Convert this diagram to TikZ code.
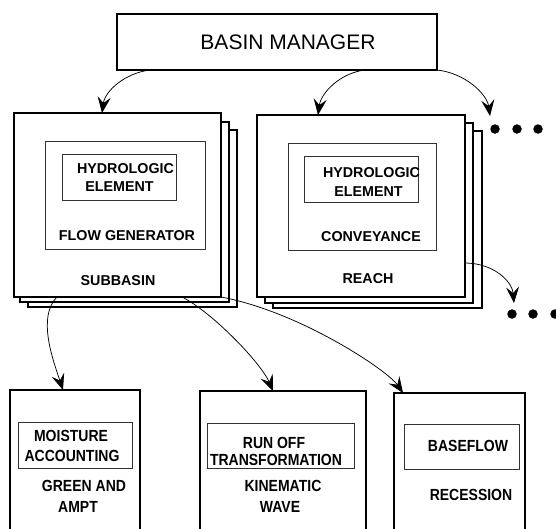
\documentclass[tikz,border=0pt]{standalone}
\usepackage{fontspec}
\usepackage{graphicx}
\setmainfont{Liberation Sans}
\usetikzlibrary{arrows.meta}
\begin{document}
\begin{tikzpicture}[x=1pt,y=-1pt,
  outerbox/.style={draw=black, line width=2.6pt, fill=white, inner sep=0pt, outer sep=0pt},
  innerbox/.style={draw=black!80, line width=0.9pt, inner sep=0pt, outer sep=0pt},
  txt/.style={inner sep=0pt, font=\bfseries\fontsize{14.3}{16}\selectfont},
  ttxt/.style={inner sep=0pt, font=\bfseries\fontsize{14}{16}\selectfont},
  dot/.style={circle, fill=black, inner sep=0pt, minimum size=9.5pt},
  arr/.style={line width=0.75pt, -{Stealth[length=16pt,width=13pt,inset=6pt]}}
]
\useasboundingbox (0,0) rectangle (556,528);
\clip (0,0) rectangle (556,528);

% Basin manager
\node[outerbox, line width=2.2pt, minimum width=320pt, minimum height=56pt] (bm) at (277,42) {};
\node[inner sep=0pt, font=\fontsize{21}{24}\selectfont] (bmt) at (288,42) {BASIN MANAGER};

% Subbasin stack
\node[outerbox, minimum width=209pt, minimum height=177pt] (s3) at (132.5,218.5) {};
\node[outerbox, minimum width=209pt, minimum height=180pt] (s2) at (124.5,212) {};
\node[outerbox, minimum width=207pt, minimum height=184pt] (s1) at (117.5,205) {};
\node[innerbox, minimum width=160pt, minimum height=108pt] (fg) at (125,195) {};
\node[innerbox, minimum width=114pt, minimum height=46pt] (he1) at (119,177) {};
\node[txt] (he1a) at (125.5,168.5) {HYDROLOGIC};
\node[txt] (he1b) at (119.5,187) {ELEMENT};
\node[txt] (fgt) at (127,236) {FLOW GENERATOR};
\node[txt] (s1t) at (118,281) {SUBBASIN};

% Reach stack
\node[outerbox, minimum width=209pt, minimum height=177pt] (r3) at (377.5,219.5) {};
\node[outerbox, minimum width=208pt, minimum height=180pt] (r2) at (369,213) {};
\node[outerbox, minimum width=208pt, minimum height=182pt] (r1) at (361,206) {};
\node[innerbox, minimum width=148pt, minimum height=107pt] (cv) at (362,196.5) {};
\node[innerbox, minimum width=114pt, minimum height=46pt] (he2) at (361,179) {};
\node[txt] (he2a) at (371.5,173) {HYDROLOGIC};
\node[txt] (he2b) at (368.5,192) {ELEMENT};
\node[txt] (cvt) at (371,237) {CONVEYANCE};
\node[txt] (r1t) at (368,279) {REACH};

% Dots
\node[dot] (t1) at (495,129) {};
\node[dot] (t2) at (517,129) {};
\node[dot] (t3) at (538,129) {};
\node[dot] (u1) at (512,314) {};
\node[dot] (u2) at (533,314) {};
\node[dot] (u3) at (555,314) {};
\coordinate (tarr) at (490,116);
\coordinate (uarr) at (514,303);

% Bottom boxes
\node[outerbox, minimum width=130pt, minimum height=155pt] (b1) at (75,467.5) {};
\node[outerbox, minimum width=166pt, minimum height=154pt] (b2) at (283,468) {};
\node[outerbox, minimum width=131pt, minimum height=152pt] (b3) at (459.5,469) {};
\node[innerbox, minimum width=114pt, minimum height=46pt] (i1) at (75,445) {};
\node[innerbox, minimum width=147pt, minimum height=45pt] (i2) at (280.5,445.5) {};
\node[innerbox, minimum width=115pt, minimum height=45pt] (i3) at (461.5,446.5) {};

\node[ttxt] (m1) at (71,436) {\scalebox{1}[1.15]{MOISTURE}};
\node[ttxt] (m2) at (72,456) {\scalebox{1}[1.15]{ACCOUNTING}};
\node[ttxt] (g1) at (84,486) {\scalebox{1}[1.15]{GREEN AND}};
\node[ttxt] (g2) at (78,507) {\scalebox{1}[1.15]{AMPT}};
\node[ttxt] (k1) at (274,443) {\scalebox{1}[1.15]{RUN OFF}};
\node[ttxt] (k2) at (276,460) {\scalebox{1}[1.15]{TRANSFORMATION}};
\node[ttxt] (k3) at (283,486) {\scalebox{1}[1.15]{KINEMATIC}};
\node[ttxt] (k4) at (280,507) {\scalebox{1}[1.15]{WAVE}};
\node[ttxt] (q1) at (468,446) {\scalebox{1}[1.15]{BASEFLOW}};
\node[ttxt] (q2) at (471,495) {\scalebox{1}[1.15]{RECESSION}};

% Arrows from basin manager
\draw[arr] ([xshift=33pt]bm.south west) .. controls +(-25,3) and +(3,-22) .. ([xshift=88pt]s1.north west);
\draw[arr] ([xshift=248pt]bm.south west) .. controls +(-25,3) and +(3,-22) .. ([xshift=61pt]r1.north west);
\draw[arr] (bm.south east) .. controls +(28,3) and +(-3,-22) .. (tarr);
% Reach to dots
\draw[arr] ([yshift=-57pt]r1.east) .. controls +(28,0) and +(-2,-22) .. (uarr);
% Subbasin to methods
\draw[arr] ([xshift=43pt]s1.south west) .. controls +(-20,20) and +(-10,-30) .. ([xshift=53pt]b1.north west);
\draw[arr] ([xshift=168pt]s1.south west) .. controls +(30,15) and +(-12,-28) .. ([xshift=73pt]b2.north west);
\draw[arr] (s1.south east) .. controls +(80,15) and +(-15,-22) .. ([xshift=9pt]b3.north west);
\end{tikzpicture}
\end{document}
